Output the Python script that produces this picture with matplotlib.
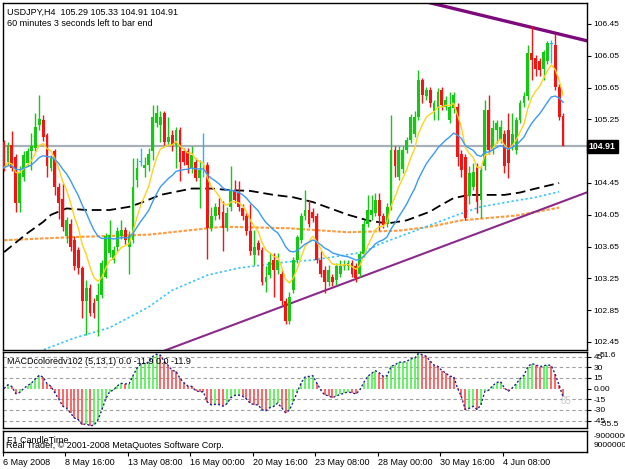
import numpy as np
import matplotlib
matplotlib.use("Agg")
import matplotlib.pyplot as plt
import matplotlib.transforms as mtrans

plt.rcParams['font.family'] = ['Liberation Sans', 'DejaVu Sans']
plt.rcParams['lines.scale_dashes'] = False

# USDJPY H4 candles
opens = [104.97, 104.72, 104.93, 104.78, 104.20, 104.52, 104.70, 104.85, 104.89, 105.18,
         105.24, 105.05, 104.64, 104.85, 104.40, 104.25, 103.78, 103.94, 103.73, 103.61,
         103.38, 102.96, 103.13, 102.94, 102.96, 103.04, 103.27, 103.57, 103.48, 103.65,
         103.78, 103.86, 103.65, 103.73, 104.49, 104.72, 104.64, 104.68, 104.85, 105.20,
         105.18, 105.33, 104.97, 105.05, 104.93, 105.12, 104.85, 104.85, 104.64, 104.72,
         104.51, 104.62, 104.68, 103.88, 104.03, 104.15, 104.09, 103.88, 104.15, 104.36,
         104.32, 104.13, 104.03, 103.84, 103.55, 103.69, 103.61, 103.21, 103.29, 103.48,
         103.36, 103.31, 102.96, 102.71, 103.10, 103.48, 103.73, 104.03, 104.11, 104.09,
         104.03, 103.48, 103.36, 103.21, 103.27, 103.23, 103.31, 103.40, 103.40, 103.44,
         103.40, 103.31, 103.56, 103.94, 104.05, 104.07, 104.24, 104.03, 103.94, 104.15,
         104.87, 104.53, 104.62, 104.87, 104.99, 105.07, 105.28, 105.75, 105.54, 105.62,
         105.35, 105.41, 105.62, 105.41, 105.24, 105.39, 105.41, 104.82, 104.78, 104.28,
         104.40, 104.66, 104.24, 104.66, 105.37, 104.86, 105.12, 104.99, 105.07, 105.12,
         104.91, 104.86, 105.24, 105.45, 105.54, 106.08, 106.02, 105.98, 105.89, 105.98,
         106.20, 106.19, 105.66, 105.29]
highs = [104.99, 104.96, 105.10, 104.82, 104.66, 104.85, 104.89, 105.08, 105.33, 105.56,
         105.30, 105.08, 104.80, 104.88, 104.45, 104.45, 104.02, 104.00, 103.78, 103.65,
         103.40, 103.23, 103.18, 103.00, 103.19, 103.48, 103.82, 103.98, 103.66, 103.90,
         103.98, 103.90, 103.84, 104.76, 104.76, 104.89, 104.78, 104.89, 105.43, 105.43,
         105.35, 105.35, 105.28, 105.12, 105.16, 105.16, 104.89, 104.89, 104.91, 104.76,
         104.74, 105.08, 104.72, 104.15, 104.20, 104.26, 104.22, 104.15, 104.66, 104.49,
         104.47, 104.18, 104.07, 104.19, 103.86, 103.73, 103.65, 103.40, 103.57, 103.57,
         103.57, 103.36, 103.00, 103.08, 103.52, 103.80, 104.07, 104.36, 104.24, 104.13,
         104.07, 103.60, 103.40, 103.42, 103.31, 103.44, 103.48, 103.48, 103.48, 103.48,
         103.44, 103.60, 103.98, 104.30, 104.30, 104.32, 104.32, 104.07, 104.20, 105.30,
         104.91, 104.91, 104.91, 105.03, 105.32, 105.35, 105.87, 105.77, 105.66, 105.66,
         105.49, 105.64, 105.66, 105.54, 105.60, 105.60, 105.45, 104.86, 104.82, 104.66,
         104.70, 104.70, 104.66, 105.49, 105.56, 105.24, 105.24, 105.24, 105.12, 105.33,
         105.33, 105.28, 105.49, 105.60, 106.19, 106.42, 106.06, 106.02, 106.12, 106.23,
         106.25, 106.33, 105.70, 105.33]
lows = [104.60, 104.68, 104.60, 104.09, 104.09, 104.47, 104.66, 104.61, 104.85, 105.12,
        104.98, 104.53, 104.60, 104.30, 104.00, 103.85, 103.70, 103.60, 103.35, 103.30,
        102.75, 102.54, 102.78, 102.75, 102.52, 103.00, 103.25, 103.52, 103.44, 103.60,
        103.74, 103.68, 103.31, 103.70, 104.40, 104.66, 104.53, 104.60, 104.74, 105.16,
        104.97, 104.93, 104.93, 104.85, 104.64, 104.47, 104.68, 104.57, 104.57, 104.47,
        104.13, 104.53, 103.50, 103.84, 103.98, 104.00, 103.59, 103.84, 104.10, 104.20,
        104.10, 103.98, 103.80, 103.55, 103.42, 103.55, 103.17, 103.08, 103.25, 103.02,
        103.31, 102.92, 102.67, 102.67, 103.06, 103.44, 103.70, 103.98, 103.90, 103.96,
        103.44, 103.27, 103.06, 103.15, 103.15, 103.17, 103.27, 103.36, 103.36, 103.27,
        103.21, 103.27, 103.52, 103.90, 103.98, 104.03, 103.86, 103.88, 103.90, 104.11,
        104.53, 104.49, 104.58, 104.83, 104.95, 105.03, 105.24, 105.45, 105.50, 105.41,
        105.24, 105.24, 105.37, 105.37, 105.20, 105.33, 104.66, 104.53, 103.98, 104.19,
        104.36, 104.07, 104.01, 104.61, 104.82, 104.82, 104.95, 104.95, 104.57, 104.51,
        104.86, 104.82, 105.20, 105.41, 105.49, 105.75, 105.80, 105.80, 105.75, 105.95,
        105.96, 105.62, 105.24, 104.91]
closes = [104.64, 104.93, 104.64, 104.20, 104.57, 104.80, 104.85, 104.91, 105.16, 105.26,
          105.03, 104.66, 104.76, 104.40, 104.20, 103.90, 103.98, 103.65, 103.40, 103.38,
          102.96, 103.13, 102.81, 102.81, 103.04, 103.44, 103.78, 103.80, 103.61, 103.84,
          103.86, 103.73, 103.78, 104.40, 104.64, 104.72, 104.68, 104.82, 105.28, 105.33,
          105.28, 104.97, 105.03, 104.93, 105.12, 104.72, 104.72, 104.68, 104.80, 104.51,
          104.61, 104.62, 103.88, 104.03, 104.15, 104.05, 103.88, 104.07, 104.36, 104.24,
          104.15, 104.03, 103.84, 103.59, 103.65, 103.61, 103.21, 103.27, 103.46, 103.36,
          103.48, 102.96, 102.71, 103.02, 103.48, 103.77, 104.03, 104.11, 103.94, 104.01,
          103.48, 103.31, 103.21, 103.36, 103.21, 103.40, 103.40, 103.42, 103.44, 103.31,
          103.25, 103.56, 103.94, 104.11, 104.11, 104.24, 104.03, 103.92, 104.15, 104.87,
          104.66, 104.87, 104.87, 104.99, 105.28, 105.28, 105.75, 105.56, 105.62, 105.45,
          105.45, 105.60, 105.43, 105.49, 105.41, 105.56, 104.78, 104.61, 104.01, 104.57,
          104.59, 104.21, 104.61, 105.37, 104.86, 105.14, 105.20, 105.16, 104.66, 104.70,
          105.07, 105.24, 105.45, 105.54, 106.08, 106.00, 105.89, 105.87, 106.10, 106.21,
          106.20, 105.66, 105.28, 104.91]

# long moving averages (bar index, price)
black_bars = [0, 6, 10, 12, 16, 21, 27, 32, 35, 40, 48, 53, 58, 63, 69, 74, 79, 88,
              93, 98, 103, 109, 111, 115, 119, 128, 132, 136, 142]
black_vals = [103.58, 103.82, 103.96, 104.05, 104.13, 104.11, 104.11, 104.15, 104.20,
              104.30, 104.38, 104.38, 104.36, 104.35, 104.30, 104.27, 104.21, 104.05,
              103.98, 103.94, 103.98, 104.09, 104.15, 104.26, 104.30, 104.30, 104.33,
              104.38, 104.45]
orange_bars = [0, 18, 37, 56, 73, 88, 101, 109, 117, 131, 142]
orange_vals = [103.73, 103.77, 103.80, 103.90, 103.88, 103.83, 103.85, 103.90, 103.98,
               104.04, 104.14]
cyan_bars = [8, 11, 18, 27, 37, 43, 52, 60, 73, 79, 92, 96, 109, 116, 122, 130, 136, 142]
cyan_vals = [102.30, 102.37, 102.50, 102.63, 102.89, 103.10, 103.29, 103.38, 103.46,
             103.48, 103.58, 103.68, 103.92, 104.05, 104.15, 104.22, 104.27, 104.34]

# trend lines (bar index, price)
upper_tl_bars = [107, 149]
upper_tl_prices = [106.74, 106.24]
lower_tl_bars = [38, 149]
lower_tl_prices = [102.285, 104.33]

price_ticks = [102.45, 102.85, 103.25, 103.65, 104.05, 104.45, 104.85, 105.25, 105.65, 106.05, 106.45]
macd_levels = [45, 30, 15, -15, -30, -45]
time_ticks = [0, 16, 32, 48, 64, 80, 96, 112, 128]
time_labels = ["6 May 2008", "8 May 16:00", "13 May 08:00", "16 May 00:00", "20 May 16:00",
               "23 May 08:00", "28 May 00:00", "30 May 16:00", "4 Jun 08:00"]
last_price = 104.91


def ema(vals, n):
    k = 2.0 / (n + 1)
    out = [vals[0]]
    for v in vals[1:]:
        out.append(out[-1] + k * (v - out[-1]))
    return np.array(out)


o = np.array(opens); h = np.array(highs); l = np.array(lows); c = np.array(closes)
x = np.arange(len(c))
GREEN, RED, DOJI = '#14c814', '#f41414', '#1eb4ff'
col = np.where(c > o, GREEN, np.where(c < o, RED, DOJI))

fig = plt.figure(figsize=(6.25, 4.69), dpi=100, facecolor='white')


def px_axes(left, top, right, bottom):
    return fig.add_axes([left / 625, 1 - bottom / 469, (right - left) / 625, (bottom - top) / 469])


ax = px_axes(2.5, 3, 586.5, 350)
axm = px_axes(2.5, 352, 586.5, 428)
axc = px_axes(2.5, 431, 586.5, 452)
xl = (-0.4, 149.0)
for a in (ax, axm, axc):
    a.set_xlim(*xl)
    for s in a.spines.values():
        s.set_linewidth(1)
        s.set_color('black')
    a.tick_params(axis='y', which='both', right=True, left=False, labelright=True,
                  labelleft=False, length=3, width=0.8, labelsize=6, pad=2)
    a.tick_params(axis='x', bottom=False, labelbottom=False)

# --- price panel ---
ax.set_ylim(102.349, 106.714)
ax.axhline(last_price, color='#a7afb8', lw=1.6, zorder=1)
ax.plot(orange_bars, orange_vals, color='#ff9a3c', lw=1.5, dashes=(2.5, 1.2), zorder=2)
ax.plot(cyan_bars, cyan_vals, color='#33c4ff', lw=1.2, dashes=(1.6, 1.8), zorder=2)
ax.plot(black_bars, black_vals, color='black', lw=1.3, dashes=(7, 3.5), zorder=2)
ax.plot(upper_tl_bars, upper_tl_prices, color='#7d0a7d', lw=2.4, zorder=2)
ax.plot(lower_tl_bars, lower_tl_prices, color='#8a2a8a', lw=1.5, zorder=2)

ax.vlines(x, l, h, colors=col, lw=1, zorder=3)
body = np.abs(c - o)
ax.bar(x, np.where(body == 0, 0.012, body), bottom=np.minimum(o, c), width=0.72,
       color=col, lw=0, zorder=3)

ax.plot(x, ema(closes, 8), color='#ffd21e', lw=1, zorder=4)
ax.plot(x, ema(closes, 21), color='#3a9af5', lw=1, zorder=4)

ax.set_yticks(price_ticks)
ax.set_yticklabels(['%.2f' % p for p in price_ticks])
trans = mtrans.blended_transform_factory(ax.transAxes, ax.transData)
ax.text(1.004, last_price, '%.2f' % last_price, transform=trans, color='white', fontsize=6.3,
        fontweight='bold', va='center', ha='left', clip_on=False, zorder=10,
        bbox=dict(boxstyle='square,pad=0.25', fc='black', ec='black'))

ax.text(0.008, 0.985, 'USDJPY,H4  105.29 105.33 104.91 104.91', transform=ax.transAxes,
        fontsize=6.5, va='top', ha='left')
ax.text(0.008, 0.955, '60 minutes 3 seconds left to bar end', transform=ax.transAxes,
        fontsize=6.5, va='top', ha='left')

# --- MACD panel ---
macd = (ema(closes, 5) - ema(closes, 13)) * 100
mcol = [GREEN if i > 0 and macd[i] > macd[i - 1] else RED for i in range(len(macd))]
mcol = ['#3cf03c' if m == GREEN else '#ff3c3c' for m in mcol]
axm.set_ylim(-55.5, 51.6)
for lv in macd_levels:
    axm.axhline(lv, color='#a0a0a0', lw=0.8, dashes=(2.5, 2))
axm.vlines(x, 0, macd, colors=mcol, lw=1.1)
axm.plot(x, macd, color='#23238c', lw=1, dashes=(1.5, 1.5))
axm.set_yticks([45, 30, 15, 0, -15, -30, -45])
axm.set_yticklabels(['45', '30', '15', '0.00', '-15', '-30', '-45'])
axm.text(1.022, 51.6, '51.6', transform=mtrans.blended_transform_factory(axm.transAxes, axm.transData),
         fontsize=6, va='top', ha='left', clip_on=False)
axm.text(1.022, -55.5, '-55.5', transform=mtrans.blended_transform_factory(axm.transAxes, axm.transData),
         fontsize=6, va='bottom', ha='left', clip_on=False)
axm.text(0.008, 0.93, 'MACDcoloredv102 (5,13,1) 0.0 -11.9 0.0 -11.9', transform=axm.transAxes,
         fontsize=6.5, va='top', ha='left')
axm.text(142.5, -17, '85', color='#c8c8c8', fontsize=7, va='center', ha='left')

# --- CandleTime panel ---
axc.set_ylim(-1, 1)
axc.set_yticks([0.55, -0.3])
axc.set_yticklabels(['-9000000', '9000000'])
axc.tick_params(axis='y', length=0, pad=5)
axc.text(0.008, 0.78, 'F1 CandleTime', transform=axc.transAxes, fontsize=6.5, va='top', ha='left')
axc.text(0.006, 0.52, 'Real Trader, \u00a9 2001-2008 MetaQuotes Software Corp.', transform=axc.transAxes,
         fontsize=6.5, va='top', ha='left')
axc.set_xticks([t - 0.5 for t in time_ticks])
axc.set_xticklabels(time_labels, ha='left')
axc.tick_params(axis='x', bottom=True, labelbottom=True, length=3, width=0.8,
                labelsize=6.5, pad=1.5, direction='out')

fig.savefig('out.png', dpi=100, facecolor='white')
